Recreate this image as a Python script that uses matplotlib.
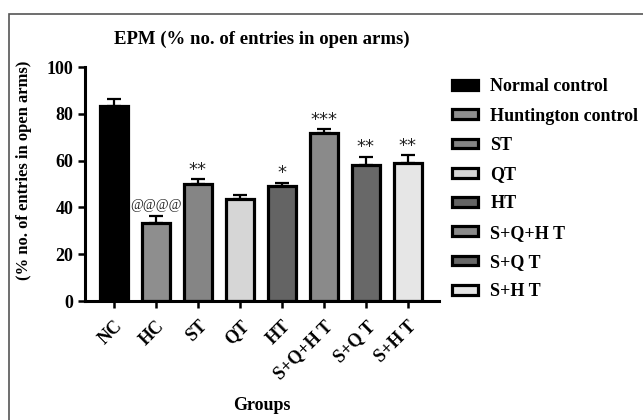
import numpy as np
import matplotlib.pyplot as plt
from matplotlib.patches import Rectangle, Patch

groups = ['NC', 'HC', 'ST', 'QT', 'HT', 'S+Q+H T', 'S+Q T', 'S+H T']
legend_names = ['Normal control', 'Huntington control', 'ST', 'QT', 'HT',
                'S+Q+H T', 'S+Q T', 'S+H T']
means = [83.2, 33.2, 50.2, 43.8, 49.1, 72.0, 58.2, 59.0]
errs = [3.0, 3.3, 1.8, 1.5, 1.5, 1.3, 3.4, 3.2]
signif = ['', '@@@@', '**', '', '*', '***', '**', '**']
colors = ['#000000', '#8e8e8e', '#858585', '#d6d6d6', '#646464',
          '#8a8a8a', '#686868', '#e6e6e6']

plt.rcParams['font.family'] = ['Liberation Serif', 'DejaVu Serif']
plt.rcParams['font.weight'] = 'bold'

fig = plt.figure(figsize=(6.43, 4.2), dpi=100)
ax = fig.add_axes([85/643, 1-301/420, (439-85)/643, (301-67)/420])

x = np.arange(len(groups))
ax.bar(x, means, width=0.66, color=colors, edgecolor='black', linewidth=2.3, zorder=2)
ax.errorbar(x, means, yerr=[np.zeros(len(errs)), errs], fmt='none', ecolor='black',
            elinewidth=1.6, capsize=5, capthick=1.6, zorder=1)

for i in range(len(groups)):
    if signif[i]:
        if '*' in signif[i]:
            ax.text(x[i], means[i] + errs[i] + 0.3, signif[i], ha='center', va='bottom',
                    fontsize=13, family='DejaVu Sans', fontweight='normal', color='#222222')
        else:
            ax.text(x[i], means[i] + errs[i] + 1.5, signif[i], ha='center', va='bottom',
                    fontsize=10, fontweight='normal', color='#222222')

ax.set_xlim(-0.69, 7.74)
ax.set_ylim(0, 100)
ax.set_yticks([0, 20, 40, 60, 80, 100])
ax.set_xticks(x)
ax.set_xticklabels(groups, rotation=45, ha='right', rotation_mode='anchor')
ax.tick_params(axis='both', labelsize=13, width=1.8, length=5, direction='out')
ax.tick_params(axis='x', pad=7)
for lab in ax.get_xticklabels() + ax.get_yticklabels():
    lab.set_fontweight('bold')
ax.spines['top'].set_visible(False)
ax.spines['right'].set_visible(False)
ax.spines['left'].set_linewidth(2.2)
ax.spines['bottom'].set_linewidth(2.2)

ax.set_ylabel('(% no. of entries in open arms)', fontsize=12, fontweight='bold')
ax.yaxis.set_label_coords(-(85-32)/354, (301-170)/234)
ax.set_xlabel('Groups', fontsize=13, fontweight='bold')
ax.xaxis.set_label_coords((262-85)/354, -(397-301)/234)
ax.text((262-85)/354, (301-39)/234, 'EPM (% no. of entries in open arms)',
        transform=ax.transAxes, ha='center', va='center', fontsize=13.5, fontweight='bold')

handles = [Patch(facecolor=c, edgecolor='black', linewidth=2.3) for c in colors]
fig.legend(handles, legend_names, loc='upper left', bbox_to_anchor=(436/643, 1-62/420),
           frameon=False, handlelength=1.4, handleheight=0.45,
           labelspacing=0.68, handletextpad=0.7, prop={'weight': 'bold', 'size': 13})

fig.patches.append(Rectangle((9/643, -0.05), 1.0, 1-14/420+0.05, transform=fig.transFigure,
                             fill=False, edgecolor='#555555', linewidth=1.2))

fig.savefig('out.png', dpi=100)
